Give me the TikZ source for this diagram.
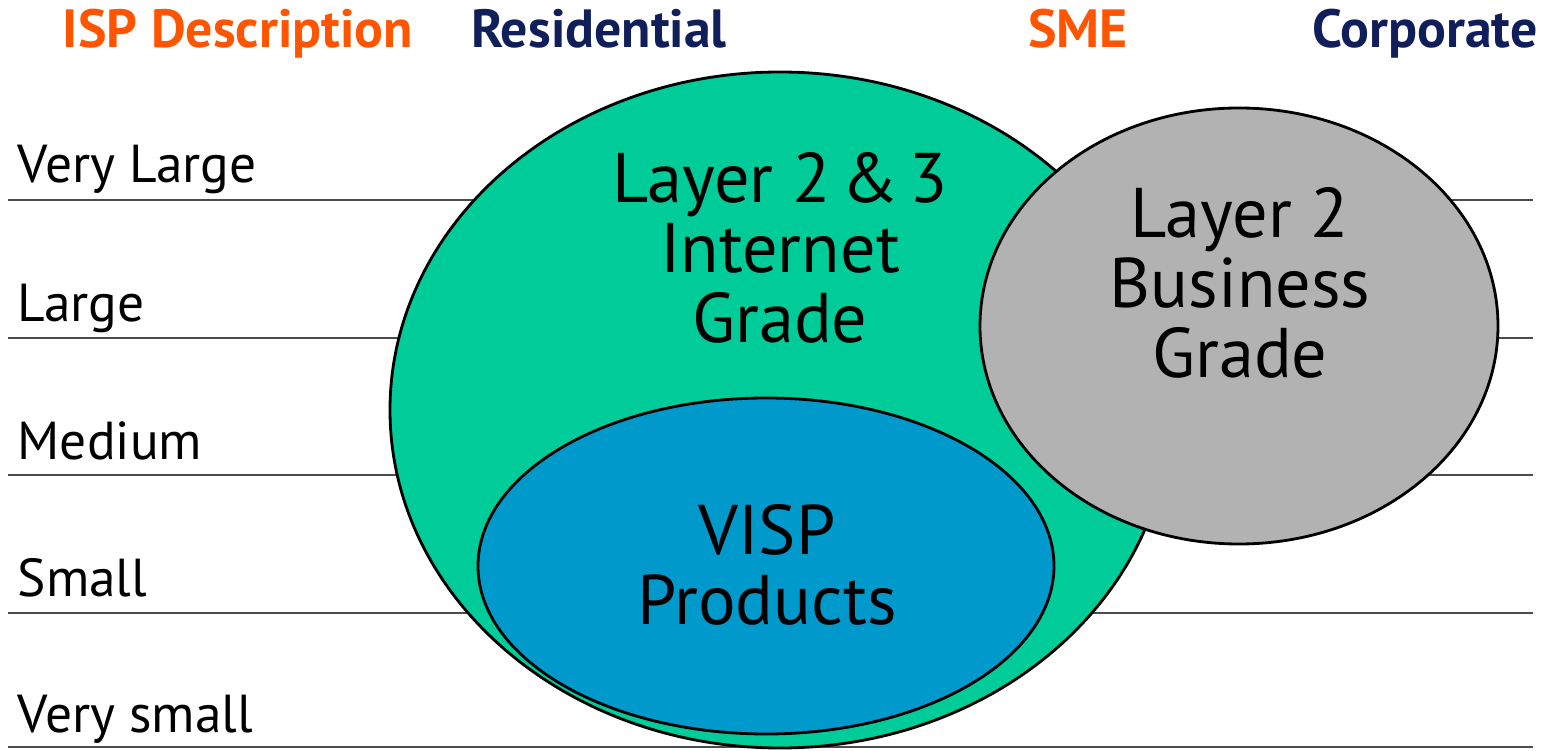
\documentclass[tikz,border=0pt]{standalone}
\usepackage{fontspec}
\setmainfont{PT Sans}
\usetikzlibrary{shapes.geometric}

\definecolor{ispgreen}{RGB}{0,204,153}
\definecolor{ispblue}{RGB}{0,153,204}
\definecolor{ispgray}{RGB}{178,178,178}
\definecolor{isporange}{RGB}{255,85,0}
\definecolor{ispnavy}{RGB}{16,31,90}

\begin{document}
\begin{tikzpicture}[
  rowline/.style={draw=black!70, line width=0.4pt},
  rowlabel/.style={anchor=base west, inner sep=0pt, font=\fontsize{15.2}{18}\selectfont},
  header/.style={anchor=base, inner sep=0pt, font=\fontsize{15.3}{18}\selectfont\bfseries},
  bubble/.style={ellipse, draw=black, line width=0.8pt, inner sep=0pt},
  bubbletext/.style={align=center, inner sep=0pt, font=\fontsize{20}{19.9}\selectfont}
]
\useasboundingbox (0,0) rectangle (15.52,7.5);

% headers
\node[header, text=isporange] (hisp) at (2.38,7.02) {ISP Description};
\node[header, text=ispnavy]   (hres) at (5.99,7.02) {Residential};
\node[header, text=isporange] (hsme) at (10.78,7.02) {SME};
\node[header, text=ispnavy]   (hcor) at (14.25,7.02) {Corporate};

% rows
\foreach \y in {5.50,4.12,2.75,1.37,0.03}
  \draw[rowline] (0.08,\y) -- (15.33,\y);
\node[rowlabel] (vlarge) at (0.17,5.67) {Very Large};
\node[rowlabel] (large)  at (0.17,4.28) {Large};
\node[rowlabel] (medium) at (0.17,2.90) {Medium};
\node[rowlabel] (small)  at (0.17,1.53) {Small};
\node[rowlabel] (vsmall) at (0.17,0.18) {Very small};

% bubbles
\node[bubble, fill=ispgreen, minimum width=7.8cm, minimum height=6.76cm] (internet) at (7.80,3.40) {};
\node[bubble, fill=ispblue, minimum width=5.76cm, minimum height=3.36cm] (visp) at (7.66,1.84) {};
\node[bubble, fill=ispgray, minimum width=5.18cm, minimum height=4.36cm] (business) at (12.39,4.24) {};

\node[bubbletext] (internettext) at (7.80,5.02) {Layer 2\hspace{0.15em}\&\hspace{0.15em}3\\Internet\\Grade};
\node[bubbletext] (visptext) at (7.67,1.85) {VISP\\Products};
\node[bubbletext] (businesstext) at (12.40,4.67) {Layer 2\\Business\\Grade};
\end{tikzpicture}
\end{document}
